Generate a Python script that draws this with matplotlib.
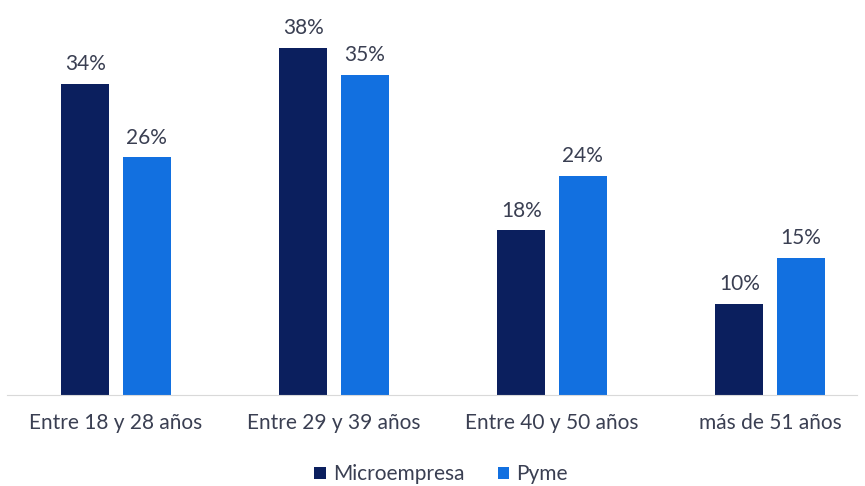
import numpy as np
from matplotlib import pyplot as plt

categorias = ['Entre 18 y 28 años', 'Entre 29 y 39 años', 'Entre 40 y 50 años', 'más de 51 años']
micro = [34, 38, 18, 10]
pyme = [26, 35, 24, 15]

plt.rcParams['font.family'] = ['Lato', 'DejaVu Sans']
c_micro = '#0b1f5e'
c_pyme = '#1270e0'
c_text = '#3a3f52'

fig = plt.figure(figsize=(8.65, 4.86), dpi=100)
ax = fig.add_axes([0.0, 0.187, 1.0, 0.813])

x = np.arange(len(categorias))
w = 0.22
off = 0.141
b1 = ax.bar(x - off, micro, w, color=c_micro, label='Microempresa')
b2 = ax.bar(x + off, pyme, w, color=c_pyme, label='Pyme')

for bars, vals in ((b1, micro), (b2, pyme)):
    for b, v in zip(bars, vals):
        ax.annotate(f'{v}%', (b.get_x() + b.get_width() / 2, v), xytext=(0, 7),
                    textcoords='offset points', ha='center', va='bottom',
                    fontsize=15, color=c_text)

ax.set_xlim(-0.532, 3.436)
ax.set_ylim(0, 43.2)
ax.set_xticks(x)
ax.set_xticklabels(categorias, fontsize=15, color=c_text)
ax.tick_params(axis='x', length=0, pad=13)
ax.set_yticks([])
for s in ['top', 'left', 'right']:
    ax.spines[s].set_visible(False)
ax.spines['bottom'].set_color('#d9d9d9')
ax.spines['bottom'].set_bounds(-0.5, 3.4)

fig.legend(loc='lower center', bbox_to_anchor=(0.51, -0.035), ncol=2, frameon=False,
           fontsize=15, handlelength=0.55, handleheight=0.55, handletextpad=0.35,
           columnspacing=1.6, labelcolor=c_text)

fig.savefig('out.png', dpi=100)
